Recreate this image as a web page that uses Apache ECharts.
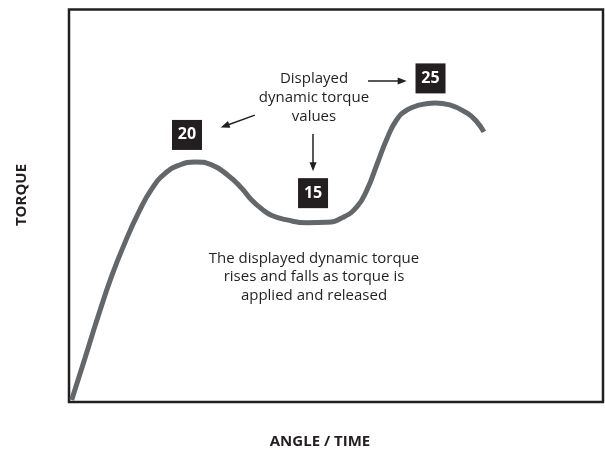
<!DOCTYPE html>
<html>
<head>
<meta charset="utf-8">
<script src="https://cdn.jsdelivr.net/npm/echarts@6/dist/echarts.min.js"></script>
<style>html,body{margin:0;padding:0;background:#fff;}#c{width:605px;height:453px;}</style>
</head>
<body>
<div id="c"></div>
<script>
// Curve: angle/time (0-100) vs torque
var angle  = [0.5, 3.0, 5.5, 8.0, 10.5, 13.0, 15.5, 18.0, 20.5, 23.6, 26.7, 29.8, 32.3, 34.2, 36.1, 38.0, 40.8, 44.6, 48.3, 51.3, 53.9, 55.8, 57.7, 59.6, 61.4, 63.3, 65.7, 68.5, 71.3, 74.5, 76.4, 77.7];
var torque = [0.17, 3.67, 7.2, 10.5, 13.3, 15.75, 17.75, 19.04, 19.71, 20.0, 19.75, 18.875, 17.83, 16.83, 16.08, 15.54, 15.17, 14.93, 14.97, 15.38, 16.25, 17.67, 19.83, 22.0, 23.54, 24.33, 24.75, 24.92, 24.75, 24.08, 23.33, 22.5];
// Displayed readouts
var readoutAngle  = [22.1, 45.7, 67.7];
var readoutTorque = [22.25, 17.4, 26.96];
var readoutLabel  = ['20', '15', '25'];
// Annotation arrows [from, to]
var arrowFrom = [[34.8, 23.9], [45.7, 22.33], [56.0, 26.75]];
var arrowTo   = [[29.2, 23.0], [45.7, 19.6], [62.4, 26.75]];
var yLabel = 'TORQUE';
var xLabel = 'ANGLE / TIME';
var noteTop = 'Displayed\ndynamic torque\nvalues';
var noteBottom = 'The displayed dynamic torque\nrises and falls as torque is\napplied and released';

var FONT = '"Open Sans", "Noto Sans", sans-serif';
var INK = '#231f20';

var chart = echarts.init(document.getElementById('c'));
var curve = angle.map(function (a, i) { return [a, torque[i]]; });
var readouts = readoutAngle.map(function (a, i) { return [a, readoutTorque[i], readoutLabel[i]]; });
var arrows = arrowFrom.map(function (f, i) { return [{ coord: f }, { coord: arrowTo[i] }]; });

chart.setOption({
  animation: false,
  backgroundColor: '#fff',
  grid: { left: 69, right: 2, top: 9.5, bottom: 51, show: true, borderColor: INK, borderWidth: 2.5, backgroundColor: 'transparent' },
  xAxis: { type: 'value', min: 0, max: 100, show: false },
  yAxis: { type: 'value', min: 0, max: 32.7, show: false },
  series: [
    {
      type: 'line', data: curve, smooth: 0.5, symbol: 'none', silent: true,
      lineStyle: { color: '#63676a', width: 5 }
    },
    {
      type: 'scatter', data: readouts, symbol: 'rect', symbolSize: 30, silent: true,
      itemStyle: { color: INK, opacity: 1 },
      label: { show: true, position: 'inside', formatter: function (p) { return p.data[2]; },
               color: '#fff', fontWeight: 'bold', fontSize: 16, fontFamily: FONT },
      markLine: {
        silent: true, symbol: ['none', 'triangle'], symbolSize: [7, 9],
        lineStyle: { color: INK, width: 1.5, type: 'solid', opacity: 1 },
        itemStyle: { color: INK },
        label: { show: false },
        data: arrows
      }
    }
  ],
  graphic: [
    { type: 'text', x: 314, y: 69.5, style: { text: noteTop, textAlign: 'center', textVerticalAlign: 'top', font: '15px ' + FONT, lineHeight: 19, fill: INK } },
    { type: 'text', x: 314, y: 249, style: { text: noteBottom, textAlign: 'center', textVerticalAlign: 'top', font: '15px ' + FONT, lineHeight: 18.5, fill: INK } },
    { type: 'text', x: 22, y: 195, rotation: Math.PI / 2, style: { text: yLabel, textAlign: 'center', textVerticalAlign: 'middle', font: 'bold 15px ' + FONT, fill: INK } },
    { type: 'text', x: 320, y: 442, style: { text: xLabel, textAlign: 'center', textVerticalAlign: 'middle', font: 'bold 15px ' + FONT, fill: INK } }
  ]
});
</script>
</body>
</html>
